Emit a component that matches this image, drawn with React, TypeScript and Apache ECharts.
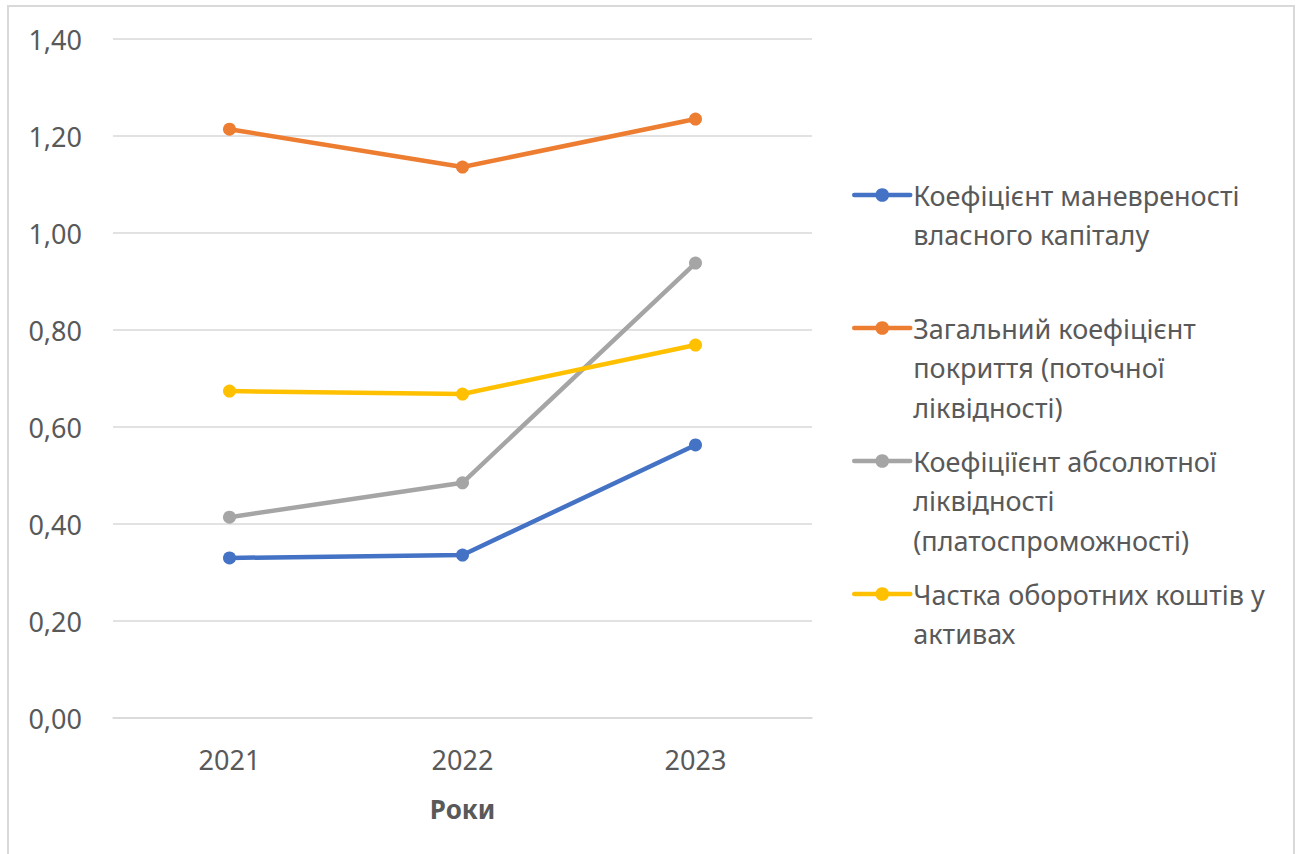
import React, { useEffect, useRef } from "react";
import * as echarts from "echarts";

const years = ["2021", "2022", "2023"];
const seriesNames = [
  "Коефіцієнт маневреності\nвласного капіталу",
  "Загальний коефіцієнт\nпокриття (поточної\nліквідності)",
  "Коефіціїєнт абсолютної\nліквідності\n(платоспроможності)",
  "Частка оборотних коштів у\nактивах",
];
const maneuverability = [0.33, 0.336, 0.563];
const coverage = [1.214, 1.136, 1.235];
const absoluteLiquidity = [0.414, 0.485, 0.938];
const currentAssetsShare = [0.674, 0.668, 0.769];
const colors = ["#4472C4", "#ED7D31", "#A5A5A5", "#FFC000"];
const legendIconY = [195, 328, 461, 594];

const FONT = "'Noto Sans', 'Open Sans', sans-serif";
const TEXT = "#595959";
const LINE_H = 39.5;

export default function App() {
  const ref = useRef<HTMLDivElement>(null);
  useEffect(() => {
    if (!ref.current) return;
    const chart = echarts.init(ref.current, undefined, { renderer: "svg" });
    const data = [maneuverability, coverage, absoluteLiquidity, currentAssetsShare];
    const legends = seriesNames.map((name, i) => {
      const lines = name.split("\n").length;
      const pad = lines - 1;
      const total = lines + pad;
      return {
        data: [name],
        left: 852,
        top: legendIconY[i] - (total * LINE_H) / 2,
        orient: "vertical" as const,
        padding: 0,
        itemWidth: 56,
        itemHeight: 17,
        selectedMode: false,
        lineStyle: { width: 4.5 },
        formatter: (n: string) => "\n".repeat(pad) + n,
        textStyle: {
          color: TEXT,
          fontFamily: FONT,
          fontSize: 27,
          lineHeight: LINE_H,
          padding: [0, 0, 0, -2],
        },
      };
    });
    chart.setOption({
      animation: false,
      backgroundColor: "#ffffff",
      color: colors,
      graphic: [
        {
          type: "rect",
          shape: { x: 8, y: 6, width: 1286, height: 870 },
          style: { fill: "none", stroke: "#d9d9d9", lineWidth: 2 },
          silent: true,
        },
      ],
      grid: { left: 113, right: 486, top: 39, bottom: 136 },
      legend: legends,
      xAxis: {
        type: "category",
        data: years,
        boundaryGap: true,
        name: "Роки",
        nameLocation: "middle",
        nameGap: 78,
        nameTextStyle: { color: TEXT, fontFamily: FONT, fontSize: 26, fontWeight: "bold" },
        axisLine: { lineStyle: { color: "#d9d9d9", width: 1.5 } },
        axisTick: { show: false },
        axisLabel: { color: TEXT, fontFamily: FONT, fontSize: 27, margin: 28 },
      },
      yAxis: {
        type: "value",
        min: 0,
        max: 1.4,
        interval: 0.2,
        axisLine: { show: false },
        axisTick: { show: false },
        splitLine: { lineStyle: { color: "#d9d9d9", width: 1.5 } },
        axisLabel: {
          color: TEXT,
          fontFamily: FONT,
          fontSize: 27,
          margin: 31,
          formatter: (v: number) => v.toFixed(2).replace(".", ","),
        },
      },
      series: seriesNames.map((name, i) => ({
        name,
        type: "line",
        data: data[i],
        symbol: "circle",
        symbolSize: 13,
        lineStyle: { width: 4.5, color: colors[i], cap: "round" },
        itemStyle: { color: colors[i] },
      })),
    });
    return () => chart.dispose();
  }, []);
  return (
    <div
      ref={ref}
      style={{ position: "absolute", left: 0, top: 0, width: 1298, height: 854 }}
    />
  );
}
